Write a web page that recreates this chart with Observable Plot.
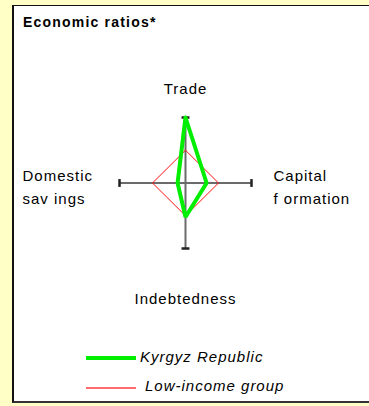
<!DOCTYPE html>
<html>
<head>
<meta charset="utf-8">
<script src="https://cdn.jsdelivr.net/npm/d3@7"></script>
<script src="https://cdn.jsdelivr.net/npm/@observablehq/plot@0.6"></script>
<style>
  html, body { margin: 0; padding: 0; }
  body { width: 369px; height: 406px; background: #FFFFC6; position: relative; overflow: hidden;
         font-family: Arial, "Liberation Sans", sans-serif; color: #000; }
  #box { position: absolute; left: 12px; top: 5px; width: 380px; height: 398px; background: #fff;
         border-left: 2px solid #111; border-top: 1px solid #111; border-bottom: 2px solid #333; box-sizing: border-box; }
  #title { position: absolute; left: 23px; top: 14px; font-weight: bold; font-size: 14px; letter-spacing: 1.2px; }
  #chart { position: absolute; left: 0; top: 0; }
  .leg { position: absolute; font-size: 15px; font-style: italic; letter-spacing: 1px; line-height: 18px; }
  .sw { position: absolute; }
</style>
</head>
<body>
<div id="box"></div>
<div id="title">Economic ratios*</div>
<div id="chart"></div>
<div class="sw" style="left:86px; top:356px; width:50px; height:4px; background:#00EE00;"></div>
<div class="leg" style="left:140px; top:348px;">Kyrgyz Republic</div>
<div class="sw" style="left:86px; top:387px; width:50px; height:2px; background:#FF6A6A;"></div>
<div class="leg" style="left:145px; top:377px;">Low-income group</div>
<script>
const axisNames = ["Trade", "Capital\nf ormation", "Indebtedness", "Domestic\nsav ings"];
const kyrgyz = [1.0, 0.32, 0.52, 0.12];
const lowIncome = [0.5, 0.5, 0.5, 0.5];

const ang = i => i * Math.PI / 2;
const px = (r, i) => r * Math.sin(ang(i));
const py = (r, i) => r * Math.cos(ang(i));

function ring(vals, name) {
  const idx = vals.map((_, i) => i).concat([0]);
  return idx.map(i => ({series: name, x: px(vals[i], i), y: py(vals[i], i)}));
}
const axes = axisNames.map((n, i) => ({name: n, i}));
const cap = 0.06;

function label(i, opts) {
  return Plot.text([axes[i]], {x: d => px(1, d.i), y: d => py(1, d.i), text: "name",
    fill: "#000", lineHeight: 1.55, ...opts});
}

const chart = Plot.plot({
  width: 369, height: 330,
  marginLeft: 119, marginRight: 118, marginTop: 117, marginBottom: 82,
  x: {domain: [-1, 1], axis: null},
  y: {domain: [-1, 1], axis: null},
  style: {fontSize: "15px", letterSpacing: "1px", fontFamily: "Arial, 'Liberation Sans', sans-serif", background: "transparent", overflow: "visible"},
  marks: [
    Plot.link(axes, {x1: 0, y1: 0, x2: d => px(1, d.i), y2: d => py(1, d.i), stroke: "#6b6b6b", strokeWidth: 2}),
    Plot.link(axes, {
      x1: d => px(1, d.i) - cap * Math.cos(ang(d.i)), y1: d => py(1, d.i) + cap * Math.sin(ang(d.i)),
      x2: d => px(1, d.i) + cap * Math.cos(ang(d.i)), y2: d => py(1, d.i) - cap * Math.sin(ang(d.i)),
      stroke: "#222", strokeWidth: 2.5}),
    Plot.line(ring(lowIncome, "Low-income group"), {x: "x", y: "y", stroke: "#FF1010", strokeWidth: 1, strokeLinejoin: "miter"}),
    Plot.line(ring(kyrgyz, "Kyrgyz Republic"), {x: "x", y: "y", stroke: "#00EE00", strokeWidth: 4, strokeLinejoin: "miter"}),
    label(0, {dy: -31, textAnchor: "middle"}),
    label(1, {dx: 22, dy: 2, textAnchor: "start"}),
    label(2, {dy: 48, textAnchor: "middle"}),
    label(3, {dx: -97, dy: 2, textAnchor: "start"})
  ]
});
document.getElementById("chart").appendChild(chart);
</script>
</body>
</html>
